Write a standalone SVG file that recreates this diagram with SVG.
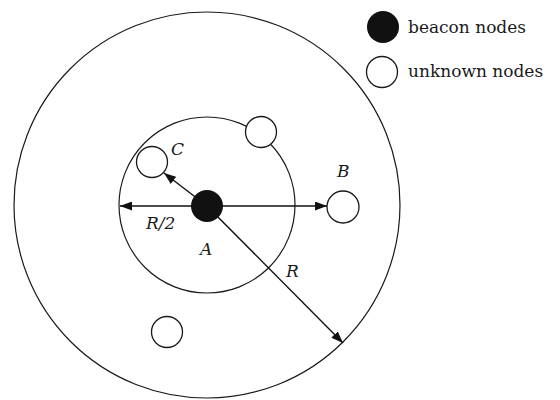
<svg xmlns="http://www.w3.org/2000/svg" width="560" height="400" viewBox="0 0 560 400">
<style>
.ring{fill:none;stroke:#1a1a1a;stroke-width:1.2}
.unk{fill:#fff;stroke:#1a1a1a;stroke-width:1.3}
.bea{fill:#111;stroke:none}
.arr{stroke:#111;stroke-width:1.4;fill:none;marker-end:url(#ah)}
.lbl{font-family:"DejaVu Serif",serif;font-style:italic;font-size:17px;fill:#1a1a1a}
.leg{font-family:"DejaVu Serif",serif;font-size:17px;fill:#1a1a1a}
</style>
<defs>
<marker id="ah" viewBox="0 0 12 9" refX="12" refY="4.5" markerWidth="12" markerHeight="9" markerUnits="userSpaceOnUse" orient="auto">
<path d="M0,0 L12,4.5 L0,9 Z" fill="#111"/>
</marker>
</defs>
<rect width="560" height="400" fill="#fff"/>
<g id="outer-range"><circle class="ring" cx="207" cy="205" r="193"/></g>
<g id="inner-range"><circle class="ring" cx="207" cy="205" r="88"/></g>
<g id="connectors">
<line class="arr" x1="207" y1="206" x2="120" y2="206"/>
<line class="arr" x1="207" y1="206" x2="327" y2="206"/>
<line class="arr" x1="207" y1="206" x2="164" y2="173"/>
<line class="arr" x1="207" y1="206" x2="343" y2="343"/>
</g>
<g id="node-A"><circle class="bea" cx="207" cy="206" r="16"/><text class="lbl" x="200" y="255">A</text></g>
<g id="node-B"><circle class="unk" cx="343" cy="207" r="16"/><text class="lbl" x="337" y="177">B</text></g>
<g id="node-C"><circle class="unk" cx="152" cy="162" r="15.5"/><text class="lbl" x="171" y="155">C</text></g>
<g id="node-top"><circle class="unk" cx="261" cy="132" r="15.5"/></g>
<g id="node-bottom"><circle class="unk" cx="167" cy="332" r="15.5"/></g>
<g id="labels">
<text class="lbl" x="146" y="229">R/2</text>
<text class="lbl" x="286" y="277">R</text>
</g>
<g id="legend-beacon"><circle class="bea" cx="383" cy="27" r="16"/><text class="leg" x="408" y="33">beacon nodes</text></g>
<g id="legend-unknown"><circle class="unk" cx="382" cy="72" r="15.5"/><text class="leg" x="408" y="77">unknown nodes</text></g>
</svg>
